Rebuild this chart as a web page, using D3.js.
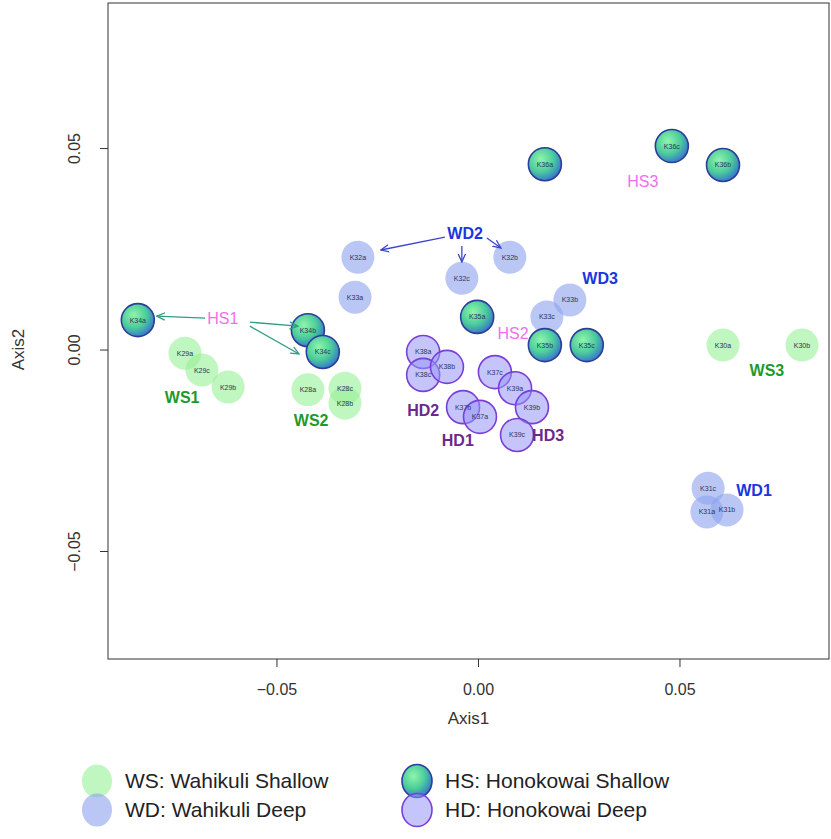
<!DOCTYPE html>
<html>
<head>
<meta charset="utf-8">
<script src="https://cdn.jsdelivr.net/npm/d3@7"></script>
<style>
  html, body { margin: 0; background: #fff; }
  svg text { font-family: "Liberation Sans", Arial, sans-serif; }
</style>
</head>
<body>
<div id="chart"></div>
<script>
// ---------- data
var sampleIds = ["K29a","K29c","K29b","K28a","K28c","K28b","K30a","K30b",
                 "K32a","K33a","K32c","K32b","K33c","K33b","K31c","K31a","K31b",
                 "K34a","K34b","K34c","K35a","K35b","K35c","K36a","K36c","K36b",
                 "K38a","K38c","K38b","K37c","K39a","K39b","K37b","K37a","K39c"];
var sampleGroup = ["WS","WS","WS","WS","WS","WS","WS","WS",
                   "WD","WD","WD","WD","WD","WD","WD","WD","WD",
                   "HS","HS","HS","HS","HS","HS","HS","HS","HS",
                   "HD","HD","HD","HD","HD","HD","HD","HD","HD"];
var axis1 = [-0.0727,-0.0685,-0.0620,-0.0422,-0.0330,-0.0330,0.0608,0.0804,
             -0.0298,-0.0305,-0.0040,0.0079,0.0171,0.0228,0.0571,0.0568,0.0618,
             -0.0844,-0.0422,-0.0385,-0.0002,0.0166,0.0270,0.0166,0.0481,0.0608,
             -0.0136,-0.0136,-0.0077,0.0042,0.0092,0.0134,-0.0037,0.0005,0.0097];
var axis2 = [-0.0009,-0.0051,-0.0093,-0.0100,-0.0096,-0.0133,0.0011,0.0011,
             0.0229,0.0130,0.0177,0.0229,0.0081,0.0123,-0.0344,-0.0403,-0.0398,
             0.0073,0.0048,-0.0006,0.0081,0.0011,0.0011,0.0460,0.0505,0.0458,
             -0.0006,-0.0063,-0.0043,-0.0056,-0.0096,-0.0143,-0.0143,-0.0167,-0.0212];

var groupLabels = ["HS1","HS2","HS3","WD1","WD2","WD3","WS1","WS2","WS3","HD1","HD2","HD3"];
var groupLabelX = [-0.0633,0.0087,0.0409,0.0685,-0.0032,0.0303,-0.0734,-0.0414,0.0717,-0.0050,-0.0136,0.0174];
var groupLabelY = [0.0078,0.0041,0.0418,-0.0349,0.0289,0.0177,-0.0120,-0.0175,-0.0051,-0.0225,-0.0150,-0.0212];

// arrows: label -> points (axis units)
var arrowGroup = ["HS","HS","HS","WD","WD","WD"];
var arrowX1 = [-0.0677,-0.0566,-0.0566,-0.0082,-0.0040,0.0022];
var arrowY1 = [0.0078,0.0068,0.0058,0.0279,0.0257,0.0277];
var arrowX2 = [-0.0797,-0.0447,-0.0444,-0.0241,-0.0040,0.0057];
var arrowY2 = [0.0083,0.0058,-0.0011,0.0247,0.0217,0.0252];

var xTicks = [-0.05, 0, 0.05];
var yTicks = [-0.05, 0, 0.05];

var legendKeys = ["WS","WD","HS","HD"];
var legendText = ["WS: Wahikuli Shallow","WD: Wahikuli Deep","HS: Honokowai Shallow","HD: Honokowai Deep"];

// ---------- styles
var fillFor = { WS: "rgba(150,240,150,0.6)", WD: "rgba(140,162,238,0.6)", HS: "url(#hsGrad)", HD: "rgba(150,150,248,0.55)" };
var strokeFor = { WS: "none", WD: "none", HS: "#2d3c9a", HD: "#7a3ed8" };
var labelColor = { WS: "#1f9a2a", WD: "#1a36e0", HS: "#ee70ee", HD: "#6b2a8a" };
var arrowColor = { HS: "#2f9e86", WD: "#3a46d0" };

var W = 831, H = 839;
var box = { left: 108, right: 829, top: 3, bottom: 659 };

var x = d3.scaleLinear().domain([-0.0918, 0.0871]).range([box.left, box.right]);
var y = d3.scaleLinear().domain([-0.0768, 0.0860]).range([box.bottom, box.top]);

var svg = d3.select("#chart").append("svg").attr("width", W).attr("height", H);
var defs = svg.append("defs");

var g = defs.append("radialGradient").attr("id", "hsGrad")
    .attr("cx", "38%").attr("cy", "35%").attr("r", "70%");
g.append("stop").attr("offset", "0%").attr("stop-color", "#8ff5aa");
g.append("stop").attr("offset", "55%").attr("stop-color", "#4ccc9c");
g.append("stop").attr("offset", "100%").attr("stop-color", "#3470d0");

["HS","WD"].forEach(function(k) {
    defs.append("marker").attr("id", "arr" + k)
        .attr("viewBox", "0 0 10 10").attr("refX", 9).attr("refY", 5)
        .attr("markerWidth", 7).attr("markerHeight", 7).attr("orient", "auto")
        .append("path").attr("d", "M0,1 L9,5 L0,9").attr("fill", "none")
        .attr("stroke", arrowColor[k]).attr("stroke-width", 1.4);
});

// plot box
svg.append("rect")
    .attr("x", box.left).attr("y", box.top)
    .attr("width", box.right - box.left).attr("height", box.bottom - box.top)
    .attr("fill", "none").attr("stroke", "#333").attr("stroke-width", 1);

// axes
var xAxis = svg.append("g").attr("transform", "translate(0," + box.bottom + ")")
    .call(d3.axisBottom(x).tickValues(xTicks).tickFormat(d3.format(".2f")).tickSize(8).tickPadding(17));
var yAxis = svg.append("g").attr("transform", "translate(" + box.left + ",0)")
    .call(d3.axisLeft(y).tickValues(yTicks).tickFormat(d3.format(".2f")).tickSize(8));
[xAxis, yAxis].forEach(function(a) {
    a.select(".domain").remove();
    a.selectAll(".tick line").attr("stroke", "#333");
    a.selectAll(".tick text").attr("font-size", 16).attr("fill", "#333")
        .style("font-family", "'Liberation Sans', Arial, sans-serif");
});
yAxis.selectAll(".tick text")
    .attr("x", null).attr("dy", null).attr("text-anchor", "middle")
    .attr("transform", "translate(-34,0) rotate(-90)")
    .attr("y", 0).attr("dy", "0.35em");

svg.append("text").attr("x", (box.left + box.right) / 2).attr("y", 724)
    .attr("text-anchor", "middle").attr("font-size", 17).attr("fill", "#333").text("Axis1");
svg.append("text").attr("transform", "translate(24," + y(0) + ") rotate(-90)")
    .attr("text-anchor", "middle").attr("font-size", 17).attr("fill", "#333").text("Axis2");

// points
var order = ["WS","WD","HS","HD"];
var idx = d3.range(sampleIds.length).sort(function(a, b) {
    return order.indexOf(sampleGroup[a]) - order.indexOf(sampleGroup[b]);
});
var pts = svg.append("g");
idx.forEach(function(i) {
    var grp = sampleGroup[i];
    pts.append("circle")
        .attr("cx", x(axis1[i])).attr("cy", y(axis2[i])).attr("r", 16.5)
        .attr("fill", fillFor[grp])
        .attr("stroke", strokeFor[grp]).attr("stroke-width", 1.6);
});
idx.forEach(function(i) {
    pts.append("text")
        .attr("x", x(axis1[i])).attr("y", y(axis2[i]) + 2.5)
        .attr("text-anchor", "middle").attr("font-size", 7).attr("fill", "#2a3560")
        .text(sampleIds[i]);
});

// arrows
arrowGroup.forEach(function(k, i) {
    svg.append("line")
        .attr("x1", x(arrowX1[i])).attr("y1", y(arrowY1[i]))
        .attr("x2", x(arrowX2[i])).attr("y2", y(arrowY2[i]))
        .attr("stroke", arrowColor[k]).attr("stroke-width", 1.3)
        .attr("marker-end", "url(#arr" + k + ")");
});

// group labels
groupLabels.forEach(function(lab, i) {
    var k = lab.slice(0, 2);
    svg.append("text")
        .attr("x", x(groupLabelX[i])).attr("y", y(groupLabelY[i]))
        .attr("dy", "0.35em").attr("text-anchor", "middle")
        .attr("font-size", 16).attr("font-weight", k === "HS" ? "normal" : "bold")
        .attr("fill", labelColor[k]).text(lab);
});

// legend
var legend = svg.append("g");
legendKeys.forEach(function(k, i) {
    var col = Math.floor(i / 2), row = i % 2;
    var cx = 97 + col * 320, cy = 781 + row * 29;
    legend.append("ellipse").attr("cx", cx).attr("cy", cy).attr("rx", 15).attr("ry", 16.5)
        .attr("fill", fillFor[k]).attr("stroke", strokeFor[k]).attr("stroke-width", 1.6);
    legend.append("text").attr("x", cx + 28).attr("y", cy).attr("dy", "0.35em")
        .attr("font-size", 21).attr("fill", "#222").text(legendText[i]);
});
</script>
</body>
</html>
